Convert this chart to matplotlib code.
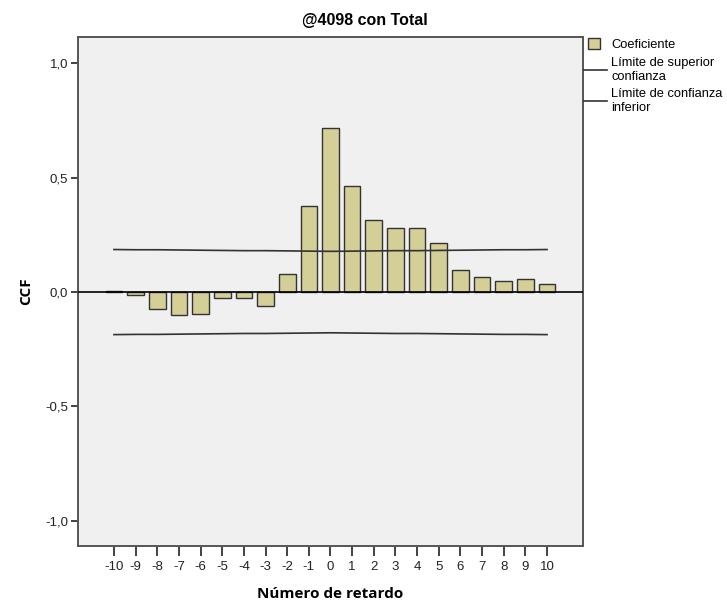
import matplotlib
matplotlib.use("Agg")
import matplotlib.pyplot as plt
from matplotlib.patches import Patch, Rectangle
from matplotlib.lines import Line2D
from matplotlib.legend_handler import HandlerPatch

# data
lags = [-10, -9, -8, -7, -6, -5, -4, -3, -2, -1, 0, 1, 2, 3, 4, 5, 6, 7, 8, 9, 10]
ccf = [0.003, -0.012, -0.075, -0.100, -0.095, -0.028, -0.025, -0.060, 0.078, 0.376,
       0.716, 0.463, 0.314, 0.278, 0.282, 0.214, 0.095, 0.064, 0.047, 0.057, 0.035]
upper = [0.186, 0.185, 0.185, 0.184, 0.183, 0.182, 0.181, 0.181, 0.180, 0.179,
         0.178, 0.179, 0.180, 0.181, 0.181, 0.182, 0.183, 0.184, 0.185, 0.185, 0.186]
lower = [-u for u in upper]
ytick_vals = [-1.0, -0.5, 0.0, 0.5, 1.0]
ytick_labels = ["-1,0", "-0,5", "0,0", "0,5", "1,0"]

plt.rcParams["font.family"] = ["Liberation Sans", "DejaVu Sans"]

W, H = 727, 602
fig = plt.figure(figsize=(W / 100, H / 100), dpi=100)
ax = fig.add_axes([78 / W, 1 - 546 / H, (583 - 78) / W, (546 - 37) / H])
ax.set_facecolor("#f0f0f0")

bar_color = "#d4cf97"
ax.bar(lags, ccf, width=0.77, color=bar_color, edgecolor="#333333", linewidth=1.0, zorder=2)
ax.axhline(0, color="black", linewidth=1.2, zorder=3)
ax.plot(lags, upper, color="#333333", linewidth=1.2, zorder=4)
ax.plot(lags, lower, color="#333333", linewidth=1.2, zorder=4)

ax.set_xlim(-11.66, 11.66)
ax.set_ylim(-1.11, 1.115)
ax.set_xticks(lags)
ax.set_xticklabels([str(l) for l in lags])
ax.set_yticks(ytick_vals)
ax.set_yticklabels(ytick_labels)
ax.tick_params(axis="both", direction="out", labelsize=9.5, colors="#222222")
ax.tick_params(axis="x", length=7, width=1.2, pad=4)
ax.tick_params(axis="y", length=5, width=1.2, pad=2)
for s in ax.spines.values():
    s.set_color("#555555")
    s.set_linewidth(1.4)

ax.set_xlabel("Número de retardo", fontsize=11, fontweight="bold", family="Open Sans", labelpad=10)
ax.set_ylabel("CCF", fontsize=11, fontweight="bold", family="Open Sans", labelpad=9)
fig.text(0.502, 1 - 20 / H, "@4098 con Total", ha="center", va="center",
         fontsize=11.5, fontweight="bold")


def square_patch(legend, orig_handle, xdescent, ydescent, width, height, fontsize):
    side = 0.9 * fontsize
    return Rectangle((-xdescent + (width - side) / 2 - 1, -ydescent + (height - side) / 2),
                     side, side)


handles = [Patch(facecolor=bar_color, edgecolor="#333333", linewidth=1.0),
           Line2D([], [], color="#333333", linewidth=1.2),
           Line2D([], [], color="#333333", linewidth=1.2)]
labels = ["Coeficiente", "Límite de superior\nconfianza", "Límite de confianza\ninferior"]
fig.legend(handles, labels, loc="upper left", bbox_to_anchor=(584 / W, 1 - 39 / H),
           frameon=False, fontsize=9.3, handlelength=1.8, handletextpad=0.3,
           labelspacing=0.45, borderaxespad=0, borderpad=0,
           handler_map={Patch: HandlerPatch(patch_func=square_patch)})

fig.savefig("out.png", dpi=100)
